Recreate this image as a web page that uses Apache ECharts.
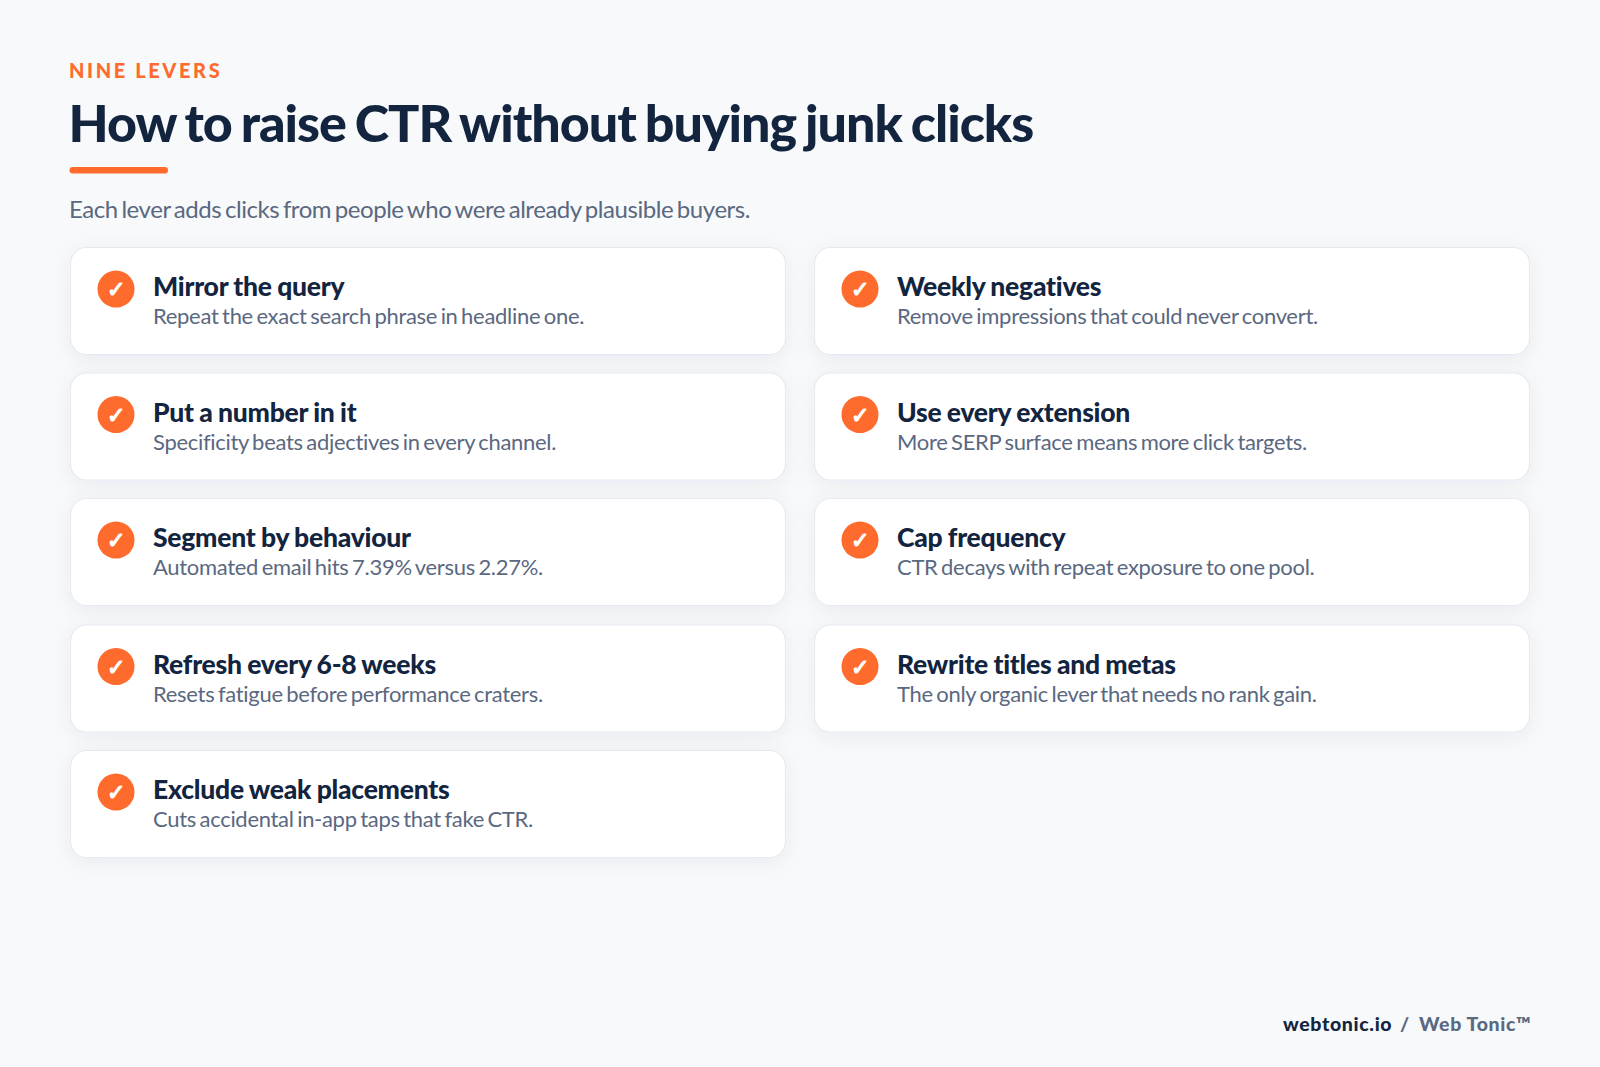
<!DOCTYPE html>
<html>
<head>
    <meta charset="utf-8"/>
    <title>How to raise CTR without buying junk clicks</title>
    <style>
        html, body { margin: 0; padding: 0; background: #f7f9fb; }
        #chart { width: 1600px; height: 1067px; }
        /* zrender has no letter spacing, so it goes on the svg text by font size */
        text[style*=" 20px"] { letter-spacing: 2.6px; }
        text[style*=" 52px"] { letter-spacing: -1px; word-spacing: -2.5px; }
        text[style*=" 24px"] { letter-spacing: -0.45px; word-spacing: -2px; }
        text[style*=" 26.5px"] { letter-spacing: -0.25px; word-spacing: -0.6px; }
        text[style*=" 22px"] { letter-spacing: -0.3px; word-spacing: -1.8px; }
        text[style*=" 19.5px"] { letter-spacing: 0.65px; }
    </style>
</head>
<body>
<div id="chart"></div>
<script src="https://cdn.jsdelivr.net/npm/echarts@6/dist/echarts.min.js"></script>
<script>
    var eyebrow = 'NINE LEVERS';
    var heading = 'How to raise CTR without buying junk clicks';
    var subheading = 'Each lever adds clicks from people who were already plausible buyers.';
    var leverTitles = ['Mirror the query', 'Put a number in it', 'Segment by behaviour', 'Refresh every 6-8 weeks', 'Exclude weak placements',
        'Weekly negatives', 'Use every extension', 'Cap frequency', 'Rewrite titles and metas'];
    var leverNotes = ['Repeat the exact search phrase in headline one.', 'Specificity beats adjectives in every channel.',
        'Automated email hits 7.39% versus 2.27%.', 'Resets fatigue before performance craters.', 'Cuts accidental in-app taps that fake CTR.',
        'Remove impressions that could never convert.', 'More SERP surface means more click targets.',
        'CTR decays with repeat exposure to one pool.', 'The only organic lever that needs no rank gain.'];
    var footerSite = 'webtonic.io';
    var footerBrand = 'Web Tonic™';

    var ORANGE = '#ff6b2c';
    var NAVY = '#13243f';
    var SLATE = '#5a6880';
    var FONT = 'Lato';
    var ROW_TOPS = [247.5, 373, 498.5, 625, 750.5];

    function label(text, x, y, size, weight, fill) {
        return {
            type: 'text',
            style: {
                text: text, x: x, y: y, fill: fill,
                fontFamily: FONT, fontSize: size, fontWeight: weight,
                verticalAlign: 'middle', align: 'left'
            }
        };
    }

    var elements = [
        label(eyebrow, 69, 70, 20, 900, ORANGE),
        label(heading, 68.5, 121.5, 52, 900, NAVY),
        {type: 'rect', shape: {x: 69.5, y: 167, width: 98.5, height: 6.5, r: 3.2}, style: {fill: ORANGE}},
        label(subheading, 69, 208.5, 24, 'normal', SLATE)
    ];

    // 左列 5 张，右列 4 张
    leverTitles.forEach(function (title, i) {
        var col = i < 5 ? 0 : 1;
        var row = i < 5 ? i : i - 5;
        var left = col === 0 ? 70.5 : 814.5;
        var top = ROW_TOPS[row];
        elements.push({
            type: 'rect',
            shape: {x: left, y: top, width: 715, height: 107, r: 16},
            style: {fill: '#fff', stroke: '#e6eaf0', lineWidth: 1.2, shadowBlur: 20, shadowOffsetY: 4, shadowColor: 'rgba(19,36,63,0.06)'}
        });
        elements.push({type: 'circle', shape: {cx: left + 45.5, cy: top + 41.6, r: 18.5}, style: {fill: ORANGE}});
        elements.push({
            type: 'text',
            style: {
                text: '✓', x: left + 45.5, y: top + 42, fill: '#fff', stroke: '#fff', lineWidth: 1.3,
                fontFamily: 'DejaVu Sans', fontSize: 22, fontWeight: 'bold',
                align: 'center', verticalAlign: 'middle'
            }
        });
        elements.push(label(title, left + 82.5, top + 38.5, 26.5, 900, NAVY));
        elements.push(label(leverNotes[i], left + 82.5, top + 68, 22, 'normal', SLATE));
    });

    elements.push(label(footerSite, 1283, 1023.5, 19.5, 900, NAVY));
    elements.push(label('/', 1400, 1023.5, 19.5, 900, SLATE));
    elements.push(label(footerBrand, 1419, 1023.5, 19.5, 900, SLATE));

    var myChart = echarts.init(document.getElementById('chart'), null, {renderer: 'svg', width: 1600, height: 1067});
    myChart.setOption({
        backgroundColor: '#f7f9fb',
        animation: false,
        graphic: {elements: elements}
    });
</script>
</body>
</html>
